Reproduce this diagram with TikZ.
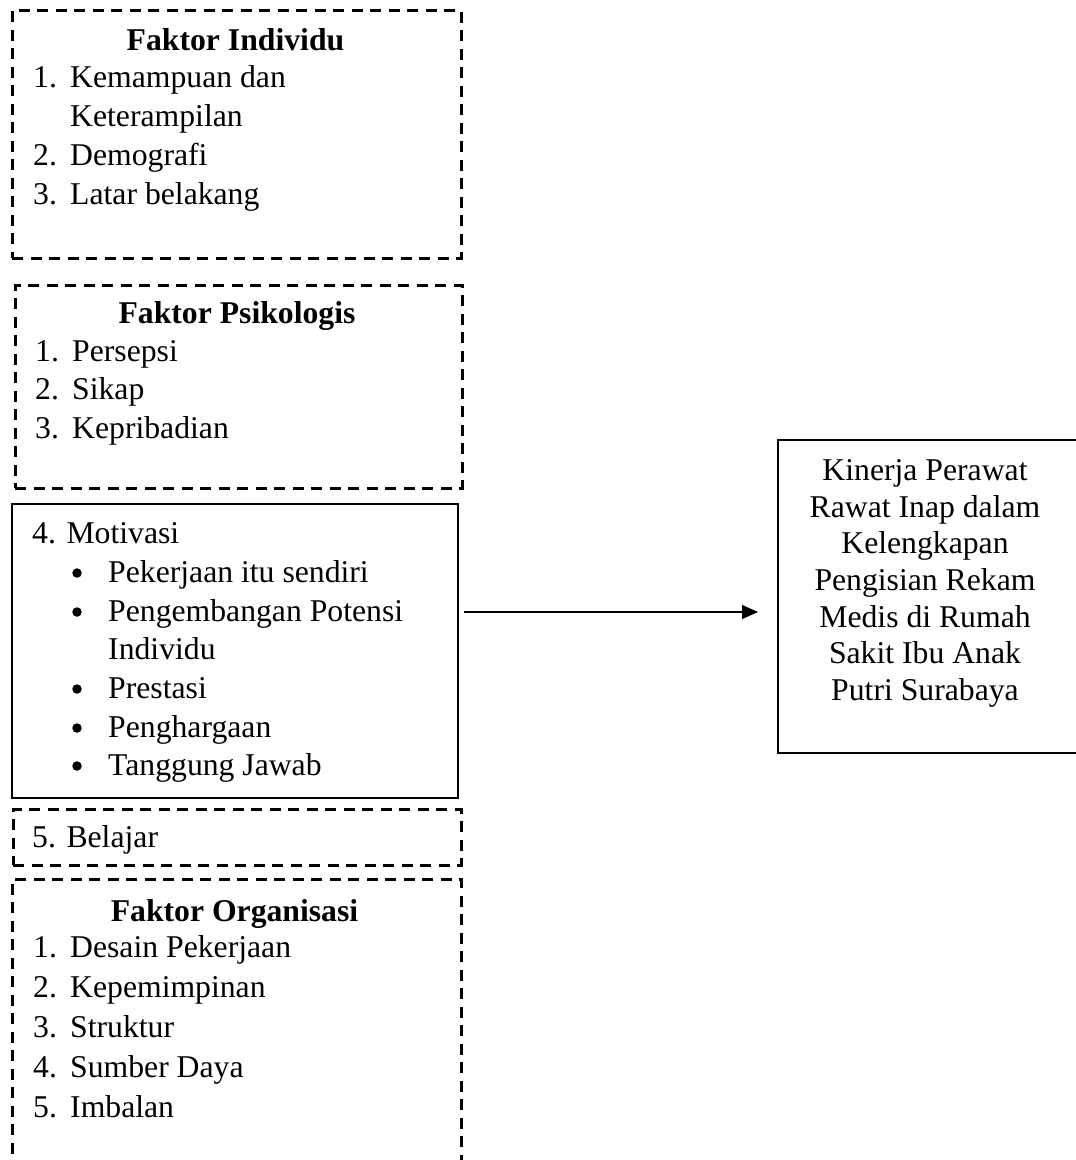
\documentclass[tikz,border=0pt]{standalone}
\usepackage{fontspec}
\setmainfont{Liberation Serif}
\usetikzlibrary{arrows.meta}
\begin{document}
\begin{tikzpicture}[x=1pt,y=-1pt]
\tikzset{
 dbox/.style={draw, dash pattern=on 11pt off 7.5pt, line width=2.6pt, rectangle, inner sep=0, anchor=north west},
 sbox/.style={draw, line width=2.4pt, rectangle, inner sep=0, anchor=north west},
 txt/.style={inner sep=0, anchor=base west, font=\fontsize{31.7}{39}\selectfont},
 ctxt/.style={inner sep=0, anchor=base, font=\fontsize{31.7}{39}\selectfont},
 ttl/.style={inner sep=0, anchor=base, font=\fontsize{31.7}{39}\selectfont\bfseries},
 bul/.style={circle, fill, inner sep=0, minimum size=9.5pt},
 arr/.style={-{Triangle[length=16pt,width=14pt]}, line width=1.2pt},
}
\useasboundingbox (0,0) rectangle (1076,1160);
% boxes
\node[dbox, minimum width=449pt, minimum height=248pt] (indiv) at (11,9) {};
\node[dbox, minimum width=447pt, minimum height=203pt] (psiko) at (14,284) {};
\node[sbox, minimum width=446pt, minimum height=294pt] (motiv) at (11,503) {};
\node[dbox, minimum width=448pt, minimum height=56pt] (belajar) at (12,808) {};
\node[dbox, minimum width=449pt, minimum height=300pt] (organ) at (11,878) {};
\node[sbox, minimum width=301pt, minimum height=313pt] (kin) at (777,439) {};
% Faktor Individu
\node[ttl] (t1) at (235.5,50) {Faktor Individu};
\node[txt] (i1n) at (33,87) {1.};
\node[txt] (i1) at (70,87) {Kemampuan dan};
\node[txt] (i1b) at (70,126) {Keterampilan};
\node[txt] (i2n) at (33,165) {2.};
\node[txt] (i2) at (70,165) {Demografi};
\node[txt] (i3n) at (33,204) {3.};
\node[txt] (i3) at (70,204) {Latar belakang};
% Faktor Psikologis
\node[ttl] (t2) at (237,323) {Faktor Psikologis};
\node[txt] (p1n) at (35,361) {1.};
\node[txt] (p1) at (72,361) {Persepsi};
\node[txt] (p2n) at (35,399) {2.};
\node[txt] (p2) at (72,399) {Sikap};
\node[txt] (p3n) at (35,438) {3.};
\node[txt] (p3) at (72,438) {Kepribadian};
% Motivasi
\node[txt] (m0) at (32,543) {4. Motivasi};
\node[bul] (b1) at (77,573) {};
\node[txt] (m1) at (108,582) {Pekerjaan itu sendiri};
\node[bul] (b2) at (77,612) {};
\node[txt] (m2) at (108,621) {Pengembangan Potensi};
\node[txt] (m2b) at (108,659) {Individu};
\node[bul] (b3) at (77,689) {};
\node[txt] (m3) at (108,698) {Prestasi};
\node[bul] (b4) at (77,728) {};
\node[txt] (m4) at (108,737) {Penghargaan};
\node[bul] (b5) at (77,766) {};
\node[txt] (m5) at (108,775) {Tanggung Jawab};
% Belajar
\node[txt] (bl) at (32,847) {5. Belajar};
% Faktor Organisasi
\node[ttl] (t3) at (234.5,921) {Faktor Organisasi};
\node[txt] (o1n) at (33,957) {1.};
\node[txt] (o1) at (70,957) {Desain Pekerjaan};
\node[txt] (o2n) at (33,997) {2.};
\node[txt] (o2) at (70,997) {Kepemimpinan};
\node[txt] (o3n) at (33,1037) {3.};
\node[txt] (o3) at (70,1037) {Struktur};
\node[txt] (o4n) at (33,1077) {4.};
\node[txt] (o4) at (70,1077) {Sumber Daya};
\node[txt] (o5n) at (33,1117) {5.};
\node[txt] (o5) at (70,1117) {Imbalan};
% Kinerja
\node[ctxt] (k1) at (925,480) {Kinerja Perawat};
\node[ctxt] (k2) at (925,517) {Rawat Inap dalam};
\node[ctxt] (k3) at (925,553) {Kelengkapan};
\node[ctxt] (k4) at (925,590) {Pengisian Rekam};
\node[ctxt] (k5) at (925,627) {Medis di Rumah};
\node[ctxt] (k6) at (925,663) {Sakit Ibu Anak};
\node[ctxt] (k7) at (925,700) {Putri Surabaya};
% arrow
\coordinate (ay) at (0,612);
\draw[arr] ([xshift=5pt]motiv.east |- ay) -- ([xshift=-19pt]kin.west |- ay);
\end{tikzpicture}
\end{document}
